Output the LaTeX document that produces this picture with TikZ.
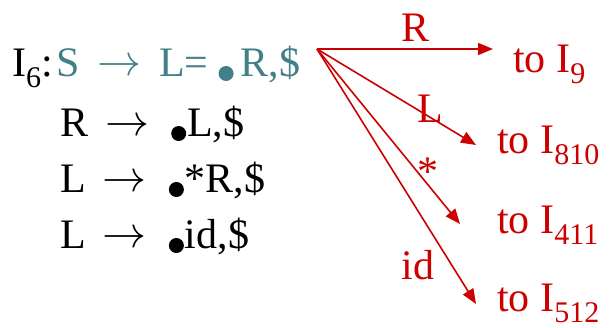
\documentclass[tikz,border=0pt]{standalone}
\usepackage{fontspec}
\setmainfont{Liberation Serif}
\usetikzlibrary{arrows.meta}
\definecolor{tealc}{RGB}{64,128,134}
\definecolor{redc}{RGB}{204,0,0}
\newcommand{\sbs}[1]{\raisebox{-11pt}{\fontsize{30}{30}\selectfont #1}}
\newcommand{\arr}[2]{\hspace{#1}\raisebox{1pt}{\resizebox{44pt}{!}{$\rightarrow$}}\hspace{#2}}
\newcommand{\dotb}{\raisebox{-5pt}{\resizebox{15pt}{15pt}{\tikz[x=1pt,y=1pt]{\fill (0,0) circle[radius=2pt];}}}}
\begin{document}
\begin{tikzpicture}[x=1pt,y=-1pt,
  txt/.style={inner sep=0pt, anchor=base west, font=\fontsize{42}{42}\selectfont},
  redtxt/.style={txt, text=redc},
  lbl/.style={inner sep=0pt, anchor=base, text=redc, font=\fontsize{42}{42}\selectfont},
  edge/.style={draw=redc, line width=1.6pt, -{Triangle[length=15pt,width=12pt]}}]
\useasboundingbox (0,0) rectangle (612,327);
\node[txt] (l1) at (12,76) {I\sbs{6}:\hspace{4pt}\textcolor{tealc}{S\arr{17pt}{18pt}L=\hspace{10pt}\dotb\hspace{7pt}R,\$}};
\node[txt] (l2) at (60,136) {R\arr{17pt}{22pt}\dotb\hspace{1pt}L,\$};
\node[txt] (l3) at (60,192) {L\arr{17pt}{22pt}\dotb\hspace{1pt}*R,\$};
\node[txt] (l4) at (60,248) {L\arr{17pt}{22pt}\dotb\hspace{1pt}id,\$};
\node[redtxt] (t9) at (513,72) {to I\sbs{9}};
\node[redtxt] (t810) at (497,153) {to I\sbs{810}};
\node[redtxt] (t411) at (497,233) {to I\sbs{411}};
\node[redtxt] (t512) at (497,311) {to I\sbs{512}};
\coordinate (o) at (317,49);
\coordinate (e9) at (493,49);
\coordinate (e810) at (476,145);
\coordinate (e411) at (460,224);
\coordinate (e512) at (476,304);
\draw[edge] (o) -- (e9);
\draw[edge] (o) -- (e810);
\draw[edge] (o) -- (e411);
\draw[edge] (o) -- (e512);
\node[lbl] (lR) at (415,41) {R};
\node[lbl] (lL) at (430,122) {L};
\node[lbl] (lS) at (428,185) {*};
\node[lbl] (lid) at (418,279) {id};
\end{tikzpicture}
\end{document}
